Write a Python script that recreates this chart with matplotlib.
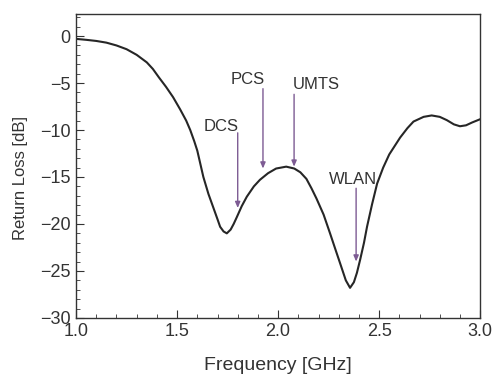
import numpy as np
import matplotlib
matplotlib.use('Agg')
import matplotlib.pyplot as plt
from matplotlib.ticker import MultipleLocator

# return loss curve
freq = [1.0, 1.05, 1.1, 1.15, 1.2, 1.25, 1.3, 1.35, 1.38, 1.41, 1.445, 1.48, 1.515,
        1.545, 1.565, 1.585, 1.6, 1.615, 1.63, 1.655,
        1.68, 1.7, 1.713, 1.73, 1.746, 1.765, 1.78, 1.795, 1.82, 1.845, 1.88, 1.91,
        1.95, 1.99, 2.04, 2.08, 2.11, 2.14, 2.165, 2.19, 2.225, 2.257, 2.285, 2.307,
        2.335, 2.356, 2.375, 2.39, 2.406, 2.425, 2.44, 2.465, 2.49, 2.52, 2.55, 2.58,
        2.604, 2.64, 2.67, 2.72, 2.76, 2.8, 2.835, 2.87, 2.9, 2.93, 2.96, 3.0]
rl = [-0.3, -0.4, -0.52, -0.7, -1.0, -1.4, -2.0, -2.8, -3.5, -4.4, -5.4, -6.5, -7.8,
      -9.0, -10.0, -11.2, -12.2, -13.6, -15.0, -16.8,
      -18.3, -19.5, -20.3, -20.8, -21.0, -20.6, -20.0, -19.3, -18.1, -17.1, -16.0, -15.3,
      -14.6, -14.1, -13.9, -14.1, -14.5, -15.2, -16.2, -17.3, -19.0, -21.0, -22.8, -24.2,
      -26.0, -26.8, -26.2, -25.2, -23.8, -22.0, -20.3, -17.9, -15.7, -14.0, -12.6, -11.6,
      -10.8, -9.8, -9.1, -8.6, -8.45, -8.6, -8.95, -9.4, -9.6, -9.5, -9.2, -8.85]

# band markers: name, arrow x, arrow start, arrow tip, label x, label y
bands = ['DCS', 'PCS', 'UMTS', 'WLAN']
arrow_x = [1.80, 1.925, 2.079, 2.386]
arrow_from = [-10.3, -5.6, -6.2, -16.2]
arrow_to = [-18.3, -14.1, -13.9, -24.0]
label_x = [1.72, 1.85, 2.19, 2.372]
label_y = [-9.6, -4.6, -5.2, -15.3]

plt.rcParams['font.family'] = ['Liberation Sans', 'DejaVu Sans']

fig = plt.figure(figsize=(4.94, 3.74), dpi=100)
ax = fig.add_axes([0.154, 0.150, 0.818, 0.8126])

ax.plot(freq, rl, color='#262626', linewidth=1.5)

for name, x, y0, y1, lx, ly in zip(bands, arrow_x, arrow_from, arrow_to, label_x, label_y):
    ax.annotate('', xy=(x, y1), xytext=(x, y0),
                arrowprops=dict(arrowstyle='-|>,head_length=0.35,head_width=0.15',
                                color='#7d5b93', lw=1.0, shrinkA=0, shrinkB=0))
    ax.text(lx, ly, name, ha='center', va='center', fontsize=12, color='#333333')

ax.set_xlim(1.0, 3.0)
ax.set_ylim(-30, 2.35)
ax.xaxis.set_major_locator(MultipleLocator(0.5))
ax.xaxis.set_minor_locator(MultipleLocator(0.1))
ax.yaxis.set_major_locator(MultipleLocator(5))
ax.yaxis.set_minor_locator(MultipleLocator(1))
ax.set_xticks([1.0, 1.5, 2.0, 2.5, 3.0])
ax.set_xticklabels(['1.0', '1.5', '2.0', '2.5', '3.0'])
ax.tick_params(which='both', direction='in', labelsize=13, colors='#333333')
ax.tick_params(which='major', length=6)
ax.tick_params(which='minor', length=3)
ax.tick_params(axis='x', pad=4)
ax.tick_params(axis='y', pad=4)
for s in ax.spines.values():
    s.set_color('#333333')
    s.set_linewidth(1.0)

ax.set_xlabel('Frequency [GHz]', fontsize=14, color='#333333', labelpad=12)
ax.set_ylabel('Return Loss [dB]', fontsize=12, color='#333333')
ax.yaxis.set_label_coords(-0.12, 0.46)

fig.savefig('out.png', dpi=100)
